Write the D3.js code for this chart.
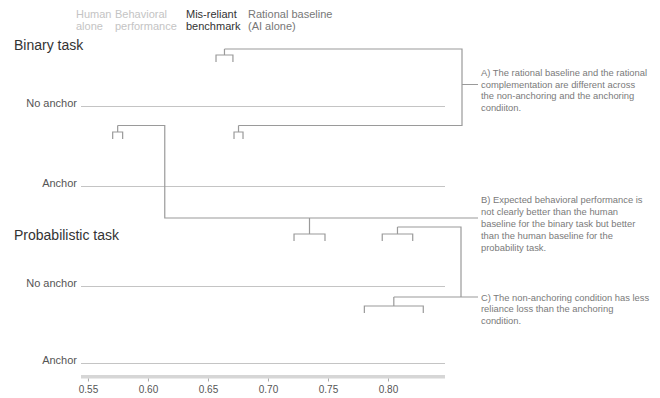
<!DOCTYPE html>
<html><head><meta charset="utf-8">
<script src="https://cdn.jsdelivr.net/npm/d3@7"></script>
<style>body{margin:0;background:#fff;} svg{display:block;font-family:"Liberation Sans",Arial,Helvetica,sans-serif;}</style>
</head><body><svg id="c" width="660" height="398"></svg>
<script>
// ---------- data ----------
const tasks = ["Binary task", "Probabilistic task"];
const conditions = ["No anchor", "Anchor"];
const legendLines = [["Human", "alone"], ["Behavioral", "performance"], ["Mis-reliant", "benchmark"], ["Rational baseline", "(AI alone)"]];
const tickValues = [0.55, 0.60, 0.65, 0.70, 0.75, 0.80];
const tickLabels = ["0.55", "0.60", "0.65", "0.70", "0.75", "0.80"];
// bracket endpoints [low, high] on the accuracy scale
const binaryNoAnchorRational = [0.6567, 0.6708];
const binaryAnchorHuman = [0.5706, 0.5789];
const binaryAnchorRational = [0.6717, 0.6792];
const probNoAnchorHuman = [0.7217, 0.7475];
const probNoAnchorRational = [0.7952, 0.8206];
const probAnchorRational = [0.7803, 0.8294];
const annotationA = ["A) The rational baseline and the rational", "complementation are different across", "the non-anchoring and the anchoring", "condiiton."];
const annotationB = ["B) Expected behavioral performance is", "not clearly better than the human", "baseline for the binary task but better", "than the human baseline for the", "probability task."];
const annotationC = ["C) The non-anchoring condition has less", "reliance loss than the anchoring", "condition."];
const annotationBElbow = 0.614;

// ---------- layout ----------
const svg = d3.select("#c");
const x = d3.scaleLinear().domain([0.5442, 0.8475]).range([81, 445]);
const rowY = [[106.5, 186.5], [286.5, 363.5]];
const titleY = [50, 240];
const gray = "#9a9a9a";

// legend
const legendX = [76, 115, 186, 248];
const legendColor = ["#c4c4c4", "#c4c4c4", "#333", "#777"];
legendLines.forEach((ls, i) => {
  const t = svg.append("text").attr("x", legendX[i]).attr("y", 18)
    .attr("font-size", 11).attr("fill", legendColor[i]);
  ls.forEach((l, j) => t.append("tspan").attr("x", legendX[i]).attr("dy", j ? 12 : 0).text(l));
});

// task titles, row labels and row lines
tasks.forEach((task, ti) => {
  svg.append("text").attr("x", 14).attr("y", titleY[ti]).attr("font-size", 14).attr("fill", "#333").text(task);
  conditions.forEach((c, ci) => {
    const y = rowY[ti][ci];
    svg.append("text").attr("x", 77).attr("y", y).attr("text-anchor", "end")
      .attr("font-size", 11).attr("fill", "#555").text(c);
    svg.append("line").attr("x1", x.range()[0]).attr("x2", x.range()[1])
      .attr("y1", y).attr("y2", y).attr("stroke", "#c4c4c4").attr("stroke-width", 1.2);
  });
});

// axis
const axisY = 375;
svg.append("rect").attr("x", x.range()[0]).attr("y", axisY).attr("width", x.range()[1] - x.range()[0])
  .attr("height", 3.5).attr("fill", "#d6d6d6");
const axis = d3.axisBottom(x).tickValues(tickValues).tickFormat((d, i) => tickLabels[i]).tickSize(3).tickPadding(4);
const ag = svg.append("g").attr("transform", `translate(0,${axisY + 3.5})`).call(axis);
ag.select(".domain").remove();
ag.selectAll(".tick line").attr("stroke", "#aaa");
ag.selectAll(".tick text").attr("font-size", 10).attr("fill", "#555").attr("font-family", "Liberation Sans, Arial, sans-serif");

// brackets
const lines = svg.append("g").attr("fill", "none").attr("stroke", gray).attr("stroke-width", 1.2);
function bracket(vals, barY, stemTop) {
  const a = x(vals[0]), b = x(vals[1]), m = (a + b) / 2;
  lines.append("path").attr("d", `M${a},${barY + 7}V${barY}H${b}V${barY + 7}M${m},${barY}V${stemTop}`);
  return m;
}
const yA1 = rowY[0][0] - 57.5, yA2 = rowY[0][1] - 61;
const mA1 = bracket(binaryNoAnchorRational, rowY[0][0] - 51.5, yA1);
const mA2 = bracket(binaryAnchorRational, rowY[0][1] - 54.5, yA2);
const mB1 = bracket(binaryAnchorHuman, rowY[0][1] - 54.5, yA2);
const yB = rowY[1][0] - 68.5;
const mB2 = bracket(probNoAnchorHuman, rowY[1][0] - 52.5, yB);
const yC1 = rowY[1][0] - 59.5, yC2 = rowY[1][1] - 66.5;
const mC1 = bracket(probNoAnchorRational, rowY[1][0] - 52.5, yC1);
const mC2 = bracket(probAnchorRational, rowY[1][1] - 57.5, yC2);

// connectors
const elbowA = x.range()[1] + 17, elbowC = x.range()[1] + 16, textX = 481, leadEnd = 478;
const yAlead = 84.5;
lines.append("path").attr("d", `M${mA1},${yA1}H${elbowA}V${yA2}H${mA2}M${elbowA},${yAlead}H${leadEnd}`);
lines.append("path").attr("d", `M${mB1},${yA2}H${x(annotationBElbow)}V${yB}H${leadEnd}`);
lines.append("path").attr("d", `M${mC1},${yC1}H${elbowC}V${yC2}H${mC2}M${elbowC},${yC2}H${leadEnd}`);

// annotation texts
function note(ls, y0, gap) {
  const t = svg.append("text").attr("font-size", 9.4).attr("fill", "#7a7a7a");
  ls.forEach((l, i) => t.append("tspan").attr("x", textX).attr("y", y0 + i * gap).text(l));
}
note(annotationA, yAlead - 8.5, 11.5);
note(annotationB, yB - 15.5, 12);
note(annotationC, yC2 + 3.5, 11.5);
</script></body></html>
